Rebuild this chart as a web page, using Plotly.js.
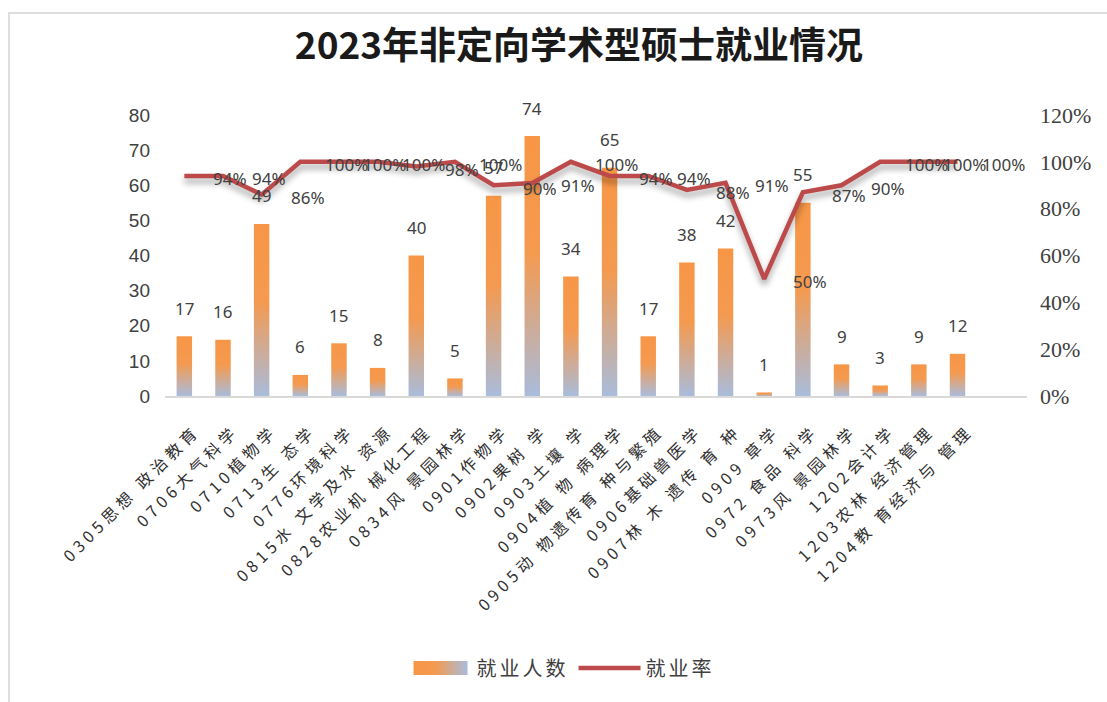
<!DOCTYPE html>
<html>
<head>
<meta charset="utf-8">
<script src="https://cdn.plot.ly/plotly-3.0.1.min.js"></script>
<style>
html,body{margin:0;padding:0;background:#fff;overflow:hidden;}
#chart{width:1107px;height:702px;position:absolute;left:0;top:0;}
#frame{position:absolute;left:8px;top:12px;width:1300px;height:900px;border:2px solid #DEDEDE;pointer-events:none;box-sizing:border-box;}
.xtick text{letter-spacing:4.5px;}
.xaxislayer-above{transform:translate(11px,18px);}
.legendtext{letter-spacing:3px;}
.scatterlayer .js-line{filter:drop-shadow(0px 5px 3px rgba(0,0,0,0.35));}
</style>
</head>
<body>
<div id="chart"></div>
<div id="frame"></div>
<script>
const categories = [
  "0305思想 政治教育","0706大气科学","0710植物学","0713生 态学","0776环境科学",
  "0815水 文学及水 资源","0828农业机 械化工程","0834风 景园林学","0901作物学","0902果树 学",
  "0903土壤 学","0904植 物 病理学","0905动 物遗传育 种与繁殖","0906基础兽医学","0907林 木 遗传 育 种",
  "0909 草学","0972 食品 科学","0973风 景园林学","1202会计学","1203农林 经济管理","1204教 育经济与 管理"
];
const employed = [17,16,49,6,15,8,40,5,57,74,34,65,17,38,42,1,55,9,3,9,12];
const rates = [0.94,0.94,0.86,1.00,1.00,1.00,0.98,1.00,0.90,0.91,1.00,0.94,0.94,0.88,0.91,0.50,0.87,0.90,1.00,1.00,1.00];
const yTicks = [0,10,20,30,40,50,60,70,80];
const y2Ticks = [0,0.2,0.4,0.6,0.8,1.0,1.2];
const y2TickText = ["0%","20%","40%","60%","80%","100%","120%"];
const titleText = "2023年非定向学术型硕士就业情况";
const seriesNames = ["就业人数","就业率"];

const labelFont = {family:"Noto Sans, Noto Sans CJK SC, sans-serif", size:17, color:"#404040"};

const traces = [
  {
    type:"bar", name:seriesNames[0], x:categories, y:employed,
    marker:{color:"#F79646"}, yaxis:"y", hoverinfo:"skip"
  },
  {
    type:"scatter", mode:"lines", name:seriesNames[1], x:categories, y:rates,
    yaxis:"y2", line:{color:"#BD4A4A", width:4.5}, hoverinfo:"skip"
  }
];

const annotations = [];
employed.forEach((v,i)=>{
  annotations.push({x:categories[i], y:v, xref:"x", yref:"y", text:String(v),
    showarrow:false, yshift:28, font:labelFont});
});
rates.forEach((r,i)=>{
  annotations.push({x:categories[i], y:r, xref:"x", yref:"y2", text:Math.round(r*100)+"%",
    showarrow:false, xshift:46, yshift:-3, font:labelFont});
});

const layout = {
  width:1107, height:702,
  margin:{l:165, r:80, t:115, b:306},
  paper_bgcolor:"#ffffff", plot_bgcolor:"#ffffff",
  showlegend:true,
  title:{text:titleText, x:0.523, xref:"container", xanchor:"center", y:0.935, yref:"container", yanchor:"middle",
    font:{family:"Noto Sans CJK SC, sans-serif", size:37, color:"#1a1a1a", weight:"bold"}},
  bargap:0.6,
  xaxis:{
    type:"category", tickangle:-45, showgrid:false, zeroline:false,
    showline:true, linecolor:"#D9D9D9", linewidth:1.5, ticks:"",
    tickfont:{family:"Noto Sans CJK SC, sans-serif", size:16, color:"#303030"},
    automargin:false
  },
  yaxis:{
    range:[0,80], tickvals:yTicks, showgrid:false, zeroline:false, showline:false, ticks:"",
    tickfont:{family:"Liberation Sans, sans-serif", size:19, color:"#404040"},
    ticklabelstandoff:14, automargin:false
  },
  yaxis2:{
    overlaying:"y", side:"right", range:[0,1.2], tickvals:y2Ticks, ticktext:y2TickText,
    showgrid:false, zeroline:false, showline:false, ticks:"",
    tickfont:{family:"Liberation Serif, serif", size:22, color:"#404040"},
    ticklabelstandoff:12, automargin:false
  },
  legend:{orientation:"h", x:0.4606, xanchor:"center", y:-0.968, yanchor:"middle",
    font:{family:"Noto Sans CJK SC, sans-serif", size:20, color:"#404040"}, itemwidth:62,
    bgcolor:"rgba(0,0,0,0)"},
  annotations:annotations
};

Plotly.newPlot("chart", traces, layout, {staticPlot:true, displayModeBar:false}).then(gd=>{
  const svg = gd.querySelector(".main-svg");
  const NS = "http://www.w3.org/2000/svg";
  let defs = svg.querySelector("defs");
  if(!defs){defs = document.createElementNS(NS,"defs"); svg.insertBefore(defs, svg.firstChild);}
  function grad(id, x2, y2, stops){
    const g = document.createElementNS(NS,"linearGradient");
    g.setAttribute("id",id); g.setAttribute("x1","0"); g.setAttribute("y1","0");
    g.setAttribute("x2",x2); g.setAttribute("y2",y2);
    stops.forEach(s=>{const st=document.createElementNS(NS,"stop");
      st.setAttribute("offset",s[0]); st.setAttribute("stop-color",s[1]); g.appendChild(st);});
    defs.appendChild(g);
  }
  grad("barGrad","0","1",[["0","#F79646"],["0.45","#F49A50"],["1","#A9BCDB"]]);
  grad("legGrad","1","0",[["0","#F79646"],["0.4","#F49A50"],["1","#A9BCDB"]]);
  gd.querySelectorAll(".barlayer .point path").forEach(p=>{p.style.fill="url(#barGrad)";});
  const legTraces = gd.querySelectorAll(".legend .traces");
  if(legTraces.length){
    legTraces[0].querySelectorAll(".legendpoints path").forEach(p=>{
      p.style.fill="url(#legGrad)"; p.style.stroke="none";
      p.setAttribute("d","M-27,7H27V-7H-27Z");
    });
  }
});
</script>
</body>
</html>
